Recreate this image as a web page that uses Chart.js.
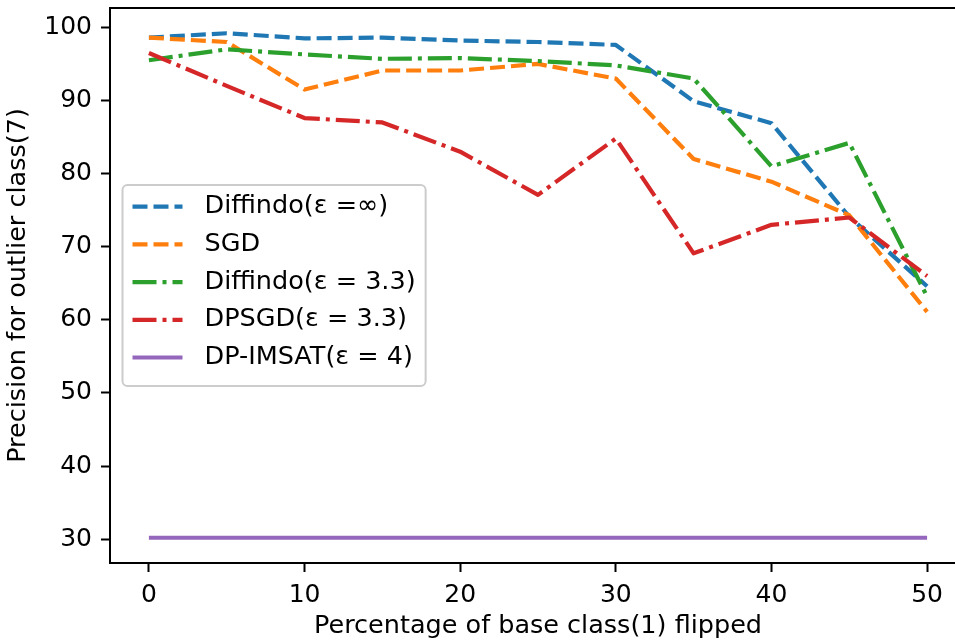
<!DOCTYPE html>
<html>
<head>
<meta charset="utf-8">
<script src="https://cdn.jsdelivr.net/npm/chart.js@4.4.0/dist/chart.umd.min.js"></script>
<style>
  html, body { margin: 0; padding: 0; background: #fff; }
  /* the original figure is cropped on the right, so the canvas is a bit wider than the view */
  #wrap { width: 955px; height: 642px; overflow: hidden; }
  canvas { display: block; }
</style>
</head>
<body>
<div id="wrap"><canvas id="plChart" width="966" height="642"></canvas></div>
<script>
const ctx = document.getElementById('plChart');

// percentage of base class flipped
const flipped = [0, 5, 10, 15, 20, 25, 30, 35, 40, 45, 50];

const diffindoInf = [98.6, 99.2, 98.5, 98.6, 98.2, 98.0, 97.6, 89.9, 86.9, 74.1, 64.6];
const sgd = [98.6, 98.0, 91.5, 94.1, 94.1, 95.0, 93.0, 82.0, 78.9, 74.3, 61.1];
const diffindo33 = [95.5, 97.0, 96.3, 95.7, 95.8, 95.4, 94.8, 93.0, 81.0, 84.2, 63.2];
const dpsgd = [96.5, 92.0, 87.6, 87.0, 83.0, 77.1, 84.8, 69.1, 73.0, 74.0, 66.0];
const dpImsat = [30.2, 30.2, 30.2, 30.2, 30.2, 30.2, 30.2, 30.2, 30.2, 30.2, 30.2];

const seriesNames = ['Diffindo(ε =∞)', 'SGD', 'Diffindo(ε = 3.3)', 'DPSGD(ε = 3.3)', 'DP-IMSAT(ε = 4)'];

const xTicks = [0, 10, 20, 30, 40, 50];
const yTicks = [30, 40, 50, 60, 70, 80, 90, 100];

const FONT = 'DejaVu Sans';
const dashed = [15, 6];
const dashDot = [24, 6, 4, 6];

const series = [
  { label: seriesNames[0], values: diffindoInf, color: '#1f77b4', dash: dashed },
  { label: seriesNames[1], values: sgd, color: '#ff7f0e', dash: dashed },
  { label: seriesNames[2], values: diffindo33, color: '#2ca02c', dash: dashDot },
  { label: seriesNames[3], values: dpsgd, color: '#d62728', dash: dashDot },
  { label: seriesNames[4], values: dpImsat, color: '#9467bd', dash: [] }
];

// legend drawn inside the plot, matplotlib style
const legendBox = {
  id: 'legendBox',
  afterDatasetsDraw(chart) {
    const { ctx, chartArea } = chart;
    const sets = chart.data.datasets;
    ctx.save();
    ctx.font = '25.5px "' + FONT + '"';
    const textW = Math.max(...sets.map(d => ctx.measureText(d.label).width));
    const pitch = 37.7;
    const w = 10 + 50 + 20 + textW + 12;
    const h = 201;
    const left = chartArea.left + 12.5;
    const top = (chartArea.top + chartArea.bottom) / 2 - h / 2;

    ctx.beginPath();
    ctx.roundRect(left, top, w, h, 5);
    ctx.fillStyle = 'rgba(255,255,255,0.8)';
    ctx.fill();
    ctx.lineWidth = 2;
    ctx.strokeStyle = '#cccccc';
    ctx.stroke();

    sets.forEach((d, i) => {
      const y = top + 21.7 + i * pitch;
      ctx.beginPath();
      ctx.setLineDash(d.borderDash);
      ctx.lineCap = 'butt';
      ctx.strokeStyle = d.borderColor;
      ctx.lineWidth = d.borderWidth;
      ctx.moveTo(left + 10, y);
      ctx.lineTo(left + 60, y);
      ctx.stroke();
      ctx.setLineDash([]);
      ctx.fillStyle = '#000';
      ctx.textBaseline = 'middle';
      ctx.textAlign = 'left';
      ctx.fillText(d.label, left + 82, y);
    });
    ctx.restore();
  }
};

// top and right spines
const frame = {
  id: 'frame',
  afterDraw(chart) {
    const { ctx, chartArea } = chart;
    ctx.save();
    ctx.strokeStyle = '#000';
    ctx.lineWidth = 2;
    ctx.beginPath();
    ctx.moveTo(chartArea.left - 1, chartArea.top);
    ctx.lineTo(chartArea.right, chartArea.top);
    ctx.lineTo(chartArea.right, chartArea.bottom);
    ctx.stroke();
    ctx.restore();
  }
};

const axisCommon = {
  grid: { drawOnChartArea: false, drawTicks: true, tickLength: 9, tickWidth: 2, tickColor: '#000' },
  border: { display: true, color: '#000', width: 2 },
};

new Chart(ctx, {
  type: 'line',
  data: {
    datasets: series.map((s, i) => ({
      label: s.label,
      data: flipped.map((x, j) => ({ x, y: s.values[j] })),
      borderColor: s.color,
      backgroundColor: s.color,
      borderDash: s.dash,
      borderWidth: 4.2,
      borderCapStyle: 'butt',
      borderJoinStyle: 'round',
      pointRadius: 0,
      tension: 0,
      fill: false,
      order: series.length - i
    }))
  },
  options: {
    responsive: false,
    animation: false,
    devicePixelRatio: 1,
    layout: { padding: { top: 8, right: 0, left: 0, bottom: 0 } },
    plugins: {
      legend: { display: false },
      tooltip: { enabled: false }
    },
    scales: {
      x: {
        type: 'linear',
        min: -2.5,
        max: 52.5,
        ...axisCommon,
        afterBuildTicks: s => { s.ticks = xTicks.map(v => ({ value: v })); },
        afterFit: s => { s.height = 79; s.paddingLeft = 0; s.paddingRight = 0; },
        ticks: { color: '#000', font: { size: 25, family: FONT }, padding: 8, maxRotation: 0, autoSkip: false },
        title: {
          display: true,
          text: 'Percentage of base class(1) flipped',
          color: '#000',
          font: { size: 25.5, family: FONT },
          padding: { top: 0, bottom: 0 }
        }
      },
      y: {
        min: 26.75,
        max: 102.65,
        ...axisCommon,
        afterBuildTicks: s => { s.ticks = yTicks.map(v => ({ value: v })); },
        afterFit: s => { s.width = 110; s.paddingTop = 0; s.paddingBottom = 0; },
        ticks: { color: '#000', font: { size: 25, family: FONT }, padding: 9, autoSkip: false },
        title: {
          display: true,
          text: 'Precision for outlier class(7)',
          color: '#000',
          font: { size: 25.5, family: FONT },
          padding: { top: 3, bottom: 0 }
        }
      }
    }
  },
  plugins: [legendBox, frame]
});
</script>
</body>
</html>
